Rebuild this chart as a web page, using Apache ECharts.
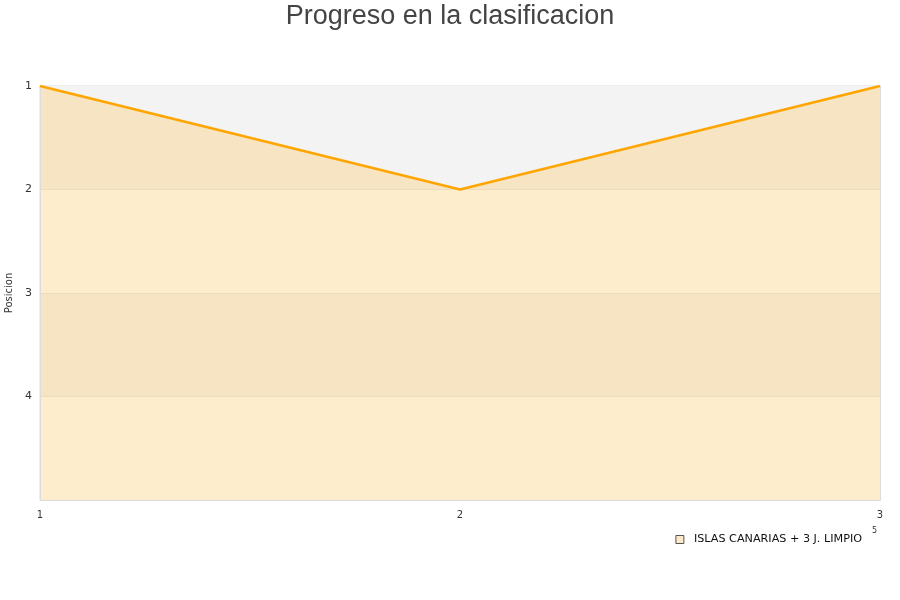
<!DOCTYPE html>
<html><head><meta charset="utf-8">
<script src="https://cdn.jsdelivr.net/npm/echarts@6/dist/echarts.min.js"></script>
<style>html,body{margin:0;padding:0;background:#fff}#c{width:900px;height:600px}</style>
</head><body><div id="c"></div>
<script>
var jornadas = ['1', '2', '3'];
var posiciones = [1, 2, 1];
var yTicks = [1, 2, 3, 4];
var serieNombre = 'ISLAS CANARIAS + 3 J. LIMPIO';

var chart = echarts.init(document.getElementById('c'));
var frame = {color: '#dcdcdc', width: 1};
chart.setOption({
  animation: false,
  backgroundColor: '#fff',
  title: {
    text: 'Progreso en la clasificacion',
    left: 'center', top: -2,
    textStyle: {fontFamily: 'Liberation Sans, Arial, sans-serif', fontSize: 27, fontWeight: 'normal', color: '#444'}
  },
  grid: {left: 40, right: 20, top: 86, bottom: 100, containLabel: false, outerBoundsMode: 'none',
    show: true, borderColor: '#dcdcdc', borderWidth: 1, backgroundColor: '#f3f3f3'},
  legend: {
    right: 33, top: 529,
    itemWidth: 8, itemHeight: 8, itemGap: 10,
    icon: 'rect',
    textStyle: {fontFamily: 'DejaVu Sans, sans-serif', fontSize: 11.2, color: '#111', padding: [0, 0, 0, 5]},
    data: [{name: serieNombre, itemStyle: {color: '#fde9c5', borderColor: '#555', borderWidth: 1}}]
  },
  xAxis: [{
    type: 'category', data: jornadas, boundaryGap: false,
    axisLine: {show: true, lineStyle: frame}, axisTick: {show: false},
    axisLabel: {color: '#333', fontFamily: 'DejaVu Sans, sans-serif', fontSize: 10, margin: 10,
      showMinLabel: true, showMaxLabel: true},
    splitLine: {show: false}
  }, {
    type: 'category', data: jornadas, boundaryGap: false, position: 'top',
    axisLine: {show: true, lineStyle: frame}, axisTick: {show: false}, axisLabel: {show: false}, splitLine: {show: false}
  }],
  yAxis: [{
    type: 'value', inverse: true, min: 1, max: 5, interval: 1,
    name: 'Posicion', nameLocation: 'middle', nameGap: 20, nameRotate: 90,
    nameTextStyle: {color: '#333', fontFamily: 'DejaVu Sans, sans-serif', fontSize: 10},
    axisLine: {show: true, lineStyle: frame}, axisTick: {show: false},
    axisLabel: {color: '#333', fontFamily: 'DejaVu Sans, sans-serif', fontSize: 11, margin: 8,
      formatter: function (v) { return yTicks.indexOf(v) >= 0 ? String(v) : ''; }},
    splitLine: {show: true, lineStyle: {color: '#ecdcbc', width: 1}},
    splitArea: {show: true, areaStyle: {color: ['#f6e4c3', '#feedcc']}}
  }, {
    type: 'value', inverse: true, min: 1, max: 5, interval: 1, position: 'right',
    axisLine: {show: true, lineStyle: frame}, axisTick: {show: false}, axisLabel: {show: false}, splitLine: {show: false}
  }],
  graphic: [{type: 'text', left: 872, top: 527, z: 10, style: {text: '5', fontSize: 8, fill: '#333', fontFamily: 'DejaVu Sans'}}],
  series: [{
    name: serieNombre, type: 'line', data: posiciones,
    symbol: 'none', showSymbol: false,
    lineStyle: {color: '#ffa500', width: 2.5},
    itemStyle: {color: '#ffa500'},
    areaStyle: {color: '#f3f3f3', opacity: 1, origin: 'start'},
    z: 3
  }]
});
</script></body></html>
